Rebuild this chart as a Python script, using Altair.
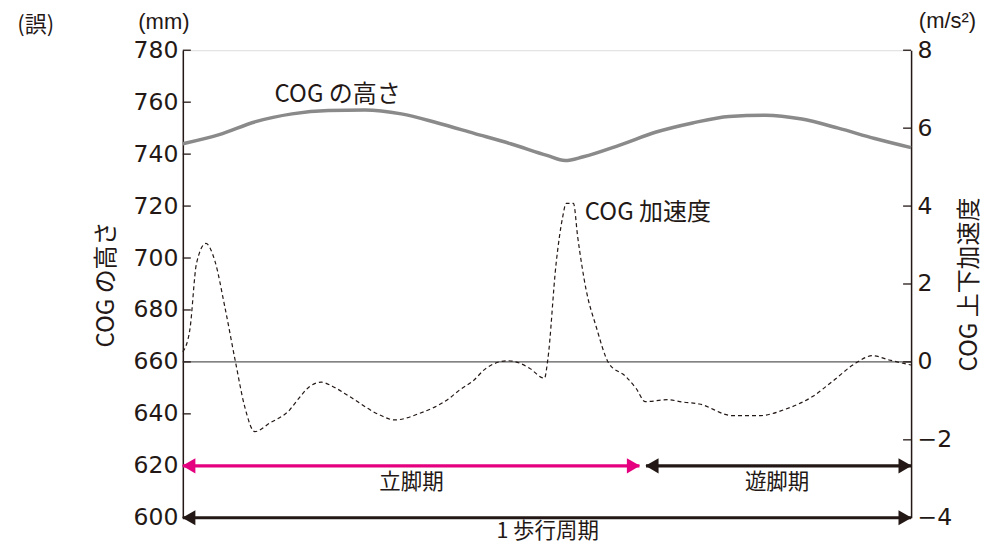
import altair as alt
import pandas as pd

# ---- data (x = % of gait cycle) ----
height_x = [0, 5, 10, 15, 20, 25, 30, 35, 40, 45, 50, 52.5, 55, 60, 65, 70, 75, 80, 85, 90, 95, 100]
height_mm = [744, 747.5, 752.5, 755.5, 756.8, 757, 755.5, 752, 748, 744, 739.5, 737.5, 739,
             743.5, 748.5, 752, 754.5, 755, 753.5, 750, 746, 742.5]

acc_x = [0, 0.96, 1.88, 3.16, 4.39, 5.76, 7.23, 8.5, 9.88, 11.93, 14.68, 15.78, 17.42, 19.03,
         20.58, 22.91, 27.02, 29.08, 32.51, 36.63, 38.0, 39.78, 41.66, 44.62, 46.23, 47.6,
         49.66, 50.11, 51.26, 52.17, 52.63, 53.64, 54.22, 55.38, 56.75, 58.48, 60.86, 62.24,
         63.51, 66.57, 68.63, 70.92, 75.49, 79.15, 82.81, 86.46, 89.2, 92.41, 94.69, 96.98, 100]
acc_val = [0.26, 0.82, 2.53, 3.04, 2.6, 1.42, 0.0, -1.15, -1.79, -1.57, -1.23, -0.97, -0.63, -0.52,
           -0.63, -0.89, -1.36, -1.49, -1.32, -0.93, -0.72, -0.5, -0.16, 0.03, -0.03, -0.16,
           -0.42, 0.05, 2.53, 3.73, 4.07, 4.07, 3.21, 1.85, 0.91, -0.03, -0.38, -0.68,
           -1.02, -0.97, -1.03, -1.08, -1.38, -1.38, -1.21, -0.89, -0.5, -0.03, 0.16, 0.05, -0.08]

phase_names = ["立脚期", "遊脚期", "1 歩行周期"]
phase_start = [0, 63.6, 0]
phase_end = [62.7, 100, 100]
phase_level = [620, 620, 600]
phase_label_x = [31.4, 81.6, 50.1]
phase_label_y = [613.5, 613.5, 594.6]

left_ticks = [600, 620, 640, 660, 680, 700, 720, 740, 760, 780]
right_ticks = [-4, -2, 0, 2, 4, 6, 8]

FONT = "Noto Sans CJK JP"
NUMFONT = "DejaVu Sans"
UNITFONT = "Liberation Sans"
INK = "#231815"
MAGENTA = "#e4007f"

df_h = pd.DataFrame({"x": height_x, "mm": height_mm})
df_a = pd.DataFrame({"x": acc_x, "acc": acc_val})
df_p = pd.DataFrame({"phase": phase_names, "x": phase_start, "x2": phase_end, "mm": phase_level,
                     "lx": phase_label_x, "ly": phase_label_y})
df_lt = pd.DataFrame({"mm": left_ticks})
df_rt = pd.DataFrame({"acc": right_ticks})

xs = alt.Scale(domain=[0, 100], nice=False, zero=False)
X = lambda f="x": alt.X(f"{f}:Q", scale=xs, axis=None)

axisL = alt.Axis(values=left_ticks, title="COG の高さ", ticks=False, tickSize=0, labelPadding=5,
                 labelFontSize=23.5, labelFont=NUMFONT, labelColor=INK, domainColor=INK, domainWidth=1.5,
                 titleFont=FONT, titleFontSize=24, titleFontWeight="normal", titleColor=INK,
                 titlePadding=15, grid=False)
axisR = alt.Axis(values=right_ticks, title="COG 上下加速度", ticks=False, tickSize=0, labelPadding=6,
                 labelFontSize=23.5, labelFont=NUMFONT, labelColor=INK, domainColor=INK, domainWidth=1.5,
                 titleFont=FONT, titleFontSize=24, titleFontWeight="normal", titleColor=INK,
                 titleAngle=270, titleBaseline="top", titlePadding=6, grid=False, orient="right")
ysL = alt.Scale(domain=[600, 780], nice=False, zero=False)
ysR = alt.Scale(domain=[-4, 8], nice=False, zero=False)
YL = lambda f="mm": alt.Y(f"{f}:Q", scale=ysL, axis=axisL)
YR = lambda f="acc": alt.Y(f"{f}:Q", scale=ysR, axis=axisR)

phase_color = alt.Color("phase:N", scale=alt.Scale(domain=phase_names, range=[MAGENTA, INK, INK]), legend=None)

zero_line = alt.Chart(pd.DataFrame({"mm": [660]})).mark_rule(color="#5a5a5a", strokeWidth=1.2).encode(
    x=alt.value(0), x2=alt.value(729), y=YL())

left_tk = alt.Chart(df_lt).mark_rule(color=INK, strokeWidth=1.3).encode(
    x=alt.value(0), x2=alt.value(8), y=YL())

height_line = alt.Chart(df_h).mark_line(color="#8a8a8a", strokeWidth=3.5, interpolate="monotone").encode(
    x=X(), y=YL())

arrows = alt.Chart(df_p).mark_rule(strokeWidth=3.2).encode(
    x=X(), x2="x2:Q", y=YL(), color=phase_color)
head_l = alt.Chart(df_p).mark_point(shape="triangle-left", filled=True, size=230, opacity=1, xOffset=6).encode(
    x=X(), y=YL(), color=phase_color)
head_r = alt.Chart(df_p).mark_point(shape="triangle-right", filled=True, size=230, opacity=1, xOffset=-6).encode(
    x=X("x2"), y=YL(), color=phase_color)
phase_text = alt.Chart(df_p).mark_text(font=FONT, fontSize=21.5, color=INK, baseline="middle").encode(
    x=X("lx"), y=YL("ly"), text="phase:N")

notes_left = pd.DataFrame({
    "t": ["COG の高さ", "(mm)", "(誤)"],
    "x": [12.6, -2.6, -20.2],
    "mm": [762.7, 791.0, 789.8],
})
note_a = alt.Chart(notes_left.iloc[[0]]).mark_text(font=FONT, fontSize=24, color=INK, align="left", baseline="middle").encode(
    x=X(), y=YL(), text="t:N")
note_b = alt.Chart(notes_left.iloc[[1]]).mark_text(font=UNITFONT, fontSize=22, color=INK, align="center", baseline="middle").encode(
    x=X(), y=YL(), text="t:N")
note_b2 = alt.Chart(notes_left.iloc[[2]]).mark_text(font=FONT, fontSize=22, color=INK, align="center", baseline="middle").encode(
    x=X(), y=YL(), text="t:N")

acc_line = alt.Chart(df_a).mark_line(color=INK, strokeWidth=1.2, strokeDash=[4, 3], interpolate="monotone").encode(
    x=X(), y=YR())
right_tk = alt.Chart(df_rt).mark_rule(color=INK, strokeWidth=1.3).encode(
    x=alt.value(721), x2=alt.value(729), y=YR())
notes_right = pd.DataFrame({"t": ["COG 加速度", "(m/s²)"], "x": [55.2, 105.0], "acc": [3.82, 8.74]})
note_c = alt.Chart(notes_right.iloc[[0]]).mark_text(font=FONT, fontSize=24, color=INK, align="left", baseline="middle").encode(
    x=X(), y=YR(), text="t:N")
note_d = alt.Chart(notes_right.iloc[[1]]).mark_text(font=UNITFONT, fontSize=22, color=INK, align="center", baseline="middle").encode(
    x=X(), y=YR(), text="t:N")

left = alt.layer(zero_line, left_tk, height_line, arrows, head_l, head_r, phase_text, note_a, note_b, note_b2)
right = alt.layer(acc_line, right_tk, note_c, note_d)

chart = alt.layer(left, right).resolve_scale(y="independent").properties(
    width=729, height=468,
    autosize=alt.AutoSizeParams(type="none"),
    padding={"left": 175, "top": 42, "right": 80, "bottom": 27},
).configure_view(stroke=None).configure(background="white")

chart.save("out.html", embed_options={"renderer": "svg", "actions": False})
